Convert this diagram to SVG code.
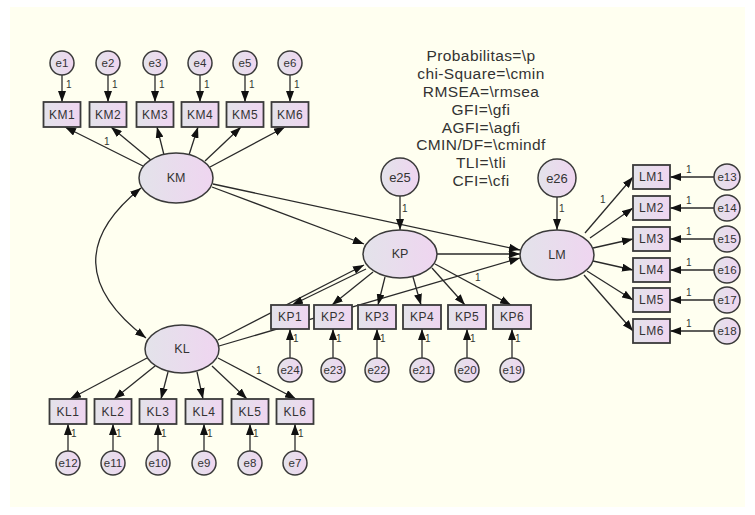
<svg xmlns="http://www.w3.org/2000/svg" width="755" height="515" viewBox="0 0 755 515">
<defs>
<linearGradient id="g" x1="0" y1="0" x2="1" y2="0">
<stop offset="0" stop-color="#E3E3EA"/>
<stop offset="1" stop-color="#EFD5F0"/>
</linearGradient>
<marker id="a" markerUnits="userSpaceOnUse" markerWidth="11" markerHeight="8" refX="11" refY="4" orient="auto-start-reverse" viewBox="0 0 11 8">
<path d="M0,0 L11,4 L0,8 z" fill="#111"/>
</marker>
<style>
.n{fill:url(#g);stroke:#3a3a3a;stroke-width:1.5}
.b{fill:url(#g);stroke:#3a3a3a;stroke-width:1.8}
.t{font-family:"Liberation Sans",Arial,sans-serif;font-size:11.5px;fill:#333;text-anchor:middle;dominant-baseline:central}
.bt{font-family:"Liberation Sans",Arial,sans-serif;font-size:12px;letter-spacing:0.5px;fill:#333;text-anchor:middle;dominant-baseline:central}
.et{font-family:"Liberation Sans",Arial,sans-serif;font-size:13px;fill:#333;text-anchor:middle;dominant-baseline:central}
.tl{font-family:"Liberation Sans",Arial,sans-serif;font-size:12.5px;fill:#333;text-anchor:middle;dominant-baseline:central}
.w{font-family:"Liberation Sans",Arial,sans-serif;font-size:10px;fill:#333}
.h{font-family:"Liberation Sans",Arial,sans-serif;font-size:15.5px;letter-spacing:0.4px;fill:#333;text-anchor:middle}
#c line,#c path{stroke:#2a2a2a;stroke-width:1.3;fill:none;marker-end:url(#a)}
</style>
</defs>
<rect x="0" y="0" width="755" height="515" fill="#ffffff"/>
<rect x="10" y="7" width="735" height="500" fill="#FFFFF0"/>

<g id="c">
<line x1="62" y1="75" x2="62" y2="102"/>
<line x1="108" y1="75" x2="108" y2="102"/>
<line x1="155" y1="75" x2="155" y2="102"/>
<line x1="200" y1="75" x2="200" y2="102"/>
<line x1="245" y1="75" x2="245" y2="102"/>
<line x1="290" y1="75" x2="290" y2="102"/>
<line x1="143" y1="166" x2="65" y2="127"/>
<line x1="152" y1="161" x2="111" y2="127"/>
<line x1="164" y1="155" x2="157" y2="127"/>
<line x1="189" y1="155" x2="198" y2="127"/>
<line x1="205" y1="161" x2="241" y2="127"/>
<line x1="210" y1="167" x2="285" y2="127"/>
<path d="M141,188 Q48,263 146,338" style="marker-start:url(#a)"/>
<line x1="212" y1="187" x2="364" y2="244"/>
<line x1="213" y1="184" x2="520" y2="250"/>
<line x1="437" y1="254" x2="520" y2="254"/>
<line x1="218" y1="340" x2="364" y2="265"/>
<line x1="219" y1="346" x2="520" y2="258"/>
<line x1="400" y1="196" x2="400" y2="230"/>
<line x1="557" y1="197" x2="557" y2="230"/>
<line x1="366" y1="269" x2="292" y2="305"/>
<line x1="373" y1="272" x2="332" y2="305"/>
<line x1="385" y1="277" x2="378" y2="305"/>
<line x1="413" y1="277" x2="421" y2="305"/>
<line x1="432" y1="268" x2="465" y2="305"/>
<line x1="435" y1="264" x2="511" y2="305"/>
<line x1="290" y1="358" x2="290" y2="329"/>
<line x1="333" y1="358" x2="333" y2="329"/>
<line x1="377" y1="358" x2="377" y2="329"/>
<line x1="422" y1="358" x2="422" y2="329"/>
<line x1="467" y1="358" x2="467" y2="329"/>
<line x1="512" y1="358" x2="512" y2="329"/>
<line x1="585" y1="233" x2="633" y2="177"/>
<line x1="590" y1="238" x2="633" y2="208"/>
<line x1="593" y1="248" x2="633" y2="239"/>
<line x1="593" y1="261" x2="633" y2="270"/>
<line x1="587" y1="271" x2="633" y2="300"/>
<line x1="584" y1="275" x2="633" y2="331"/>
<line x1="714" y1="177" x2="670" y2="177"/>
<line x1="714" y1="208" x2="670" y2="208"/>
<line x1="714" y1="239" x2="670" y2="239"/>
<line x1="714" y1="270" x2="670" y2="270"/>
<line x1="714" y1="300" x2="670" y2="300"/>
<line x1="714" y1="331" x2="670" y2="331"/>
<line x1="147" y1="358" x2="70" y2="399"/>
<line x1="155" y1="366" x2="114" y2="399"/>
<line x1="168" y1="372" x2="161" y2="399"/>
<line x1="197" y1="372" x2="203" y2="399"/>
<line x1="212" y1="366" x2="247" y2="399"/>
<line x1="218" y1="358" x2="296" y2="399"/>
<line x1="68" y1="451" x2="68" y2="424"/>
<line x1="113" y1="451" x2="113" y2="424"/>
<line x1="158" y1="451" x2="158" y2="424"/>
<line x1="204" y1="451" x2="204" y2="424"/>
<line x1="250" y1="451" x2="250" y2="424"/>
<line x1="295" y1="451" x2="295" y2="424"/>
</g>

<g id="weights">
<text class="w" x="66" y="88">1</text>
<text class="w" x="112" y="88">1</text>
<text class="w" x="159" y="88">1</text>
<text class="w" x="204" y="88">1</text>
<text class="w" x="249" y="88">1</text>
<text class="w" x="294" y="88">1</text>
<text class="w" x="104" y="145">1</text>
<text class="w" x="402" y="212">1</text>
<text class="w" x="559" y="212">1</text>
<text class="w" x="600" y="203">1</text>
<text class="w" x="475" y="281">1</text>
<text class="w" x="256" y="374">1</text>
<text class="w" x="686" y="173">1</text>
<text class="w" x="686" y="204">1</text>
<text class="w" x="686" y="235">1</text>
<text class="w" x="686" y="266">1</text>
<text class="w" x="686" y="296">1</text>
<text class="w" x="686" y="327">1</text>
<text class="w" x="293" y="342">1</text>
<text class="w" x="336" y="342">1</text>
<text class="w" x="380" y="342">1</text>
<text class="w" x="425" y="342">1</text>
<text class="w" x="470" y="342">1</text>
<text class="w" x="515" y="342">1</text>
<text class="w" x="71" y="437">1</text>
<text class="w" x="116" y="437">1</text>
<text class="w" x="161" y="437">1</text>
<text class="w" x="207" y="437">1</text>
<text class="w" x="253" y="437">1</text>
<text class="w" x="298" y="437">1</text>
</g>

<g id="fit">
<text class="h" x="481" y="61">Probabilitas=\p</text>
<text class="h" x="481" y="79">chi-Square=\cmin</text>
<text class="h" x="481" y="97">RMSEA=\rmsea</text>
<text class="h" x="481" y="115">GFI=\gfi</text>
<text class="h" x="481" y="133">AGFI=\agfi</text>
<text class="h" x="481" y="150">CMIN/DF=\cmindf</text>
<text class="h" x="481" y="168">TLI=\tli</text>
<text class="h" x="481" y="186">CFI=\cfi</text>
</g>

<g id="KM"><ellipse class="n" cx="176" cy="178" rx="37" ry="25"/><text class="tl" x="176" y="178">KM</text></g>
<g id="KP"><ellipse class="n" cx="400" cy="254" rx="37" ry="24"/><text class="tl" x="400" y="254">KP</text></g>
<g id="LM"><ellipse class="n" cx="557" cy="255" rx="37" ry="25"/><text class="tl" x="557" y="255">LM</text></g>
<g id="KL"><ellipse class="n" cx="182" cy="349" rx="37" ry="24"/><text class="tl" x="182" y="349">KL</text></g>
<g id="e25"><circle class="n" cx="400" cy="177" r="19"/><text class="et" x="400" y="177">e25</text></g>
<g id="e26"><circle class="n" cx="557" cy="178" r="19"/><text class="et" x="557" y="178">e26</text></g>

<g id="KM1"><rect class="b" x="43.5" y="102" width="37" height="25"/><text class="bt" x="62" y="114.5">KM1</text></g>
<g id="KM2"><rect class="b" x="89.5" y="102" width="37" height="25"/><text class="bt" x="108" y="114.5">KM2</text></g>
<g id="KM3"><rect class="b" x="136.5" y="102" width="37" height="25"/><text class="bt" x="155" y="114.5">KM3</text></g>
<g id="KM4"><rect class="b" x="181.5" y="102" width="37" height="25"/><text class="bt" x="200" y="114.5">KM4</text></g>
<g id="KM5"><rect class="b" x="226.5" y="102" width="37" height="25"/><text class="bt" x="245" y="114.5">KM5</text></g>
<g id="KM6"><rect class="b" x="271.5" y="102" width="37" height="25"/><text class="bt" x="290" y="114.5">KM6</text></g>
<g id="e1"><circle class="n" cx="62" cy="63" r="12"/><text class="t" x="62" y="63">e1</text></g>
<g id="e2"><circle class="n" cx="108" cy="63" r="12"/><text class="t" x="108" y="63">e2</text></g>
<g id="e3"><circle class="n" cx="155" cy="63" r="12"/><text class="t" x="155" y="63">e3</text></g>
<g id="e4"><circle class="n" cx="200" cy="63" r="12"/><text class="t" x="200" y="63">e4</text></g>
<g id="e5"><circle class="n" cx="245" cy="63" r="12"/><text class="t" x="245" y="63">e5</text></g>
<g id="e6"><circle class="n" cx="290" cy="63" r="12"/><text class="t" x="290" y="63">e6</text></g>

<g id="KP1"><rect class="b" x="271" y="305" width="38" height="24"/><text class="bt" x="290" y="317">KP1</text></g>
<g id="KP2"><rect class="b" x="314" y="305" width="38" height="24"/><text class="bt" x="333" y="317">KP2</text></g>
<g id="KP3"><rect class="b" x="358" y="305" width="38" height="24"/><text class="bt" x="377" y="317">KP3</text></g>
<g id="KP4"><rect class="b" x="403" y="305" width="38" height="24"/><text class="bt" x="422" y="317">KP4</text></g>
<g id="KP5"><rect class="b" x="448" y="305" width="38" height="24"/><text class="bt" x="467" y="317">KP5</text></g>
<g id="KP6"><rect class="b" x="493" y="305" width="38" height="24"/><text class="bt" x="512" y="317">KP6</text></g>
<g id="e24"><circle class="n" cx="290" cy="370" r="12"/><text class="t" x="290" y="370">e24</text></g>
<g id="e23"><circle class="n" cx="333" cy="370" r="12"/><text class="t" x="333" y="370">e23</text></g>
<g id="e22"><circle class="n" cx="377" cy="370" r="12"/><text class="t" x="377" y="370">e22</text></g>
<g id="e21"><circle class="n" cx="422" cy="370" r="12"/><text class="t" x="422" y="370">e21</text></g>
<g id="e20"><circle class="n" cx="467" cy="370" r="12"/><text class="t" x="467" y="370">e20</text></g>
<g id="e19"><circle class="n" cx="512" cy="370" r="12"/><text class="t" x="512" y="370">e19</text></g>

<g id="LM1"><rect class="b" x="633" y="165" width="37" height="24"/><text class="bt" x="651.5" y="177">LM1</text></g>
<g id="LM2"><rect class="b" x="633" y="196" width="37" height="24"/><text class="bt" x="651.5" y="208">LM2</text></g>
<g id="LM3"><rect class="b" x="633" y="227" width="37" height="24"/><text class="bt" x="651.5" y="239">LM3</text></g>
<g id="LM4"><rect class="b" x="633" y="258" width="37" height="24"/><text class="bt" x="651.5" y="270">LM4</text></g>
<g id="LM5"><rect class="b" x="633" y="288" width="37" height="24"/><text class="bt" x="651.5" y="300">LM5</text></g>
<g id="LM6"><rect class="b" x="633" y="319" width="37" height="24"/><text class="bt" x="651.5" y="331">LM6</text></g>
<g id="e13"><circle class="n" cx="727" cy="177" r="13"/><text class="t" x="727" y="177">e13</text></g>
<g id="e14"><circle class="n" cx="727" cy="208" r="13"/><text class="t" x="727" y="208">e14</text></g>
<g id="e15"><circle class="n" cx="727" cy="239" r="13"/><text class="t" x="727" y="239">e15</text></g>
<g id="e16"><circle class="n" cx="727" cy="270" r="13"/><text class="t" x="727" y="270">e16</text></g>
<g id="e17"><circle class="n" cx="727" cy="300" r="13"/><text class="t" x="727" y="300">e17</text></g>
<g id="e18"><circle class="n" cx="727" cy="331" r="13"/><text class="t" x="727" y="331">e18</text></g>

<g id="KL1"><rect class="b" x="49.5" y="399" width="37" height="25"/><text class="bt" x="68" y="411.5">KL1</text></g>
<g id="KL2"><rect class="b" x="94.5" y="399" width="37" height="25"/><text class="bt" x="113" y="411.5">KL2</text></g>
<g id="KL3"><rect class="b" x="139.5" y="399" width="37" height="25"/><text class="bt" x="158" y="411.5">KL3</text></g>
<g id="KL4"><rect class="b" x="185.5" y="399" width="37" height="25"/><text class="bt" x="204" y="411.5">KL4</text></g>
<g id="KL5"><rect class="b" x="231.5" y="399" width="37" height="25"/><text class="bt" x="250" y="411.5">KL5</text></g>
<g id="KL6"><rect class="b" x="276.5" y="399" width="37" height="25"/><text class="bt" x="295" y="411.5">KL6</text></g>
<g id="e12"><circle class="n" cx="68" cy="463" r="12"/><text class="t" x="68" y="463">e12</text></g>
<g id="e11"><circle class="n" cx="113" cy="463" r="12"/><text class="t" x="113" y="463">e11</text></g>
<g id="e10"><circle class="n" cx="158" cy="463" r="12"/><text class="t" x="158" y="463">e10</text></g>
<g id="e9"><circle class="n" cx="204" cy="463" r="12"/><text class="t" x="204" y="463">e9</text></g>
<g id="e8"><circle class="n" cx="250" cy="463" r="12"/><text class="t" x="250" y="463">e8</text></g>
<g id="e7"><circle class="n" cx="295" cy="463" r="12"/><text class="t" x="295" y="463">e7</text></g>
</svg>
